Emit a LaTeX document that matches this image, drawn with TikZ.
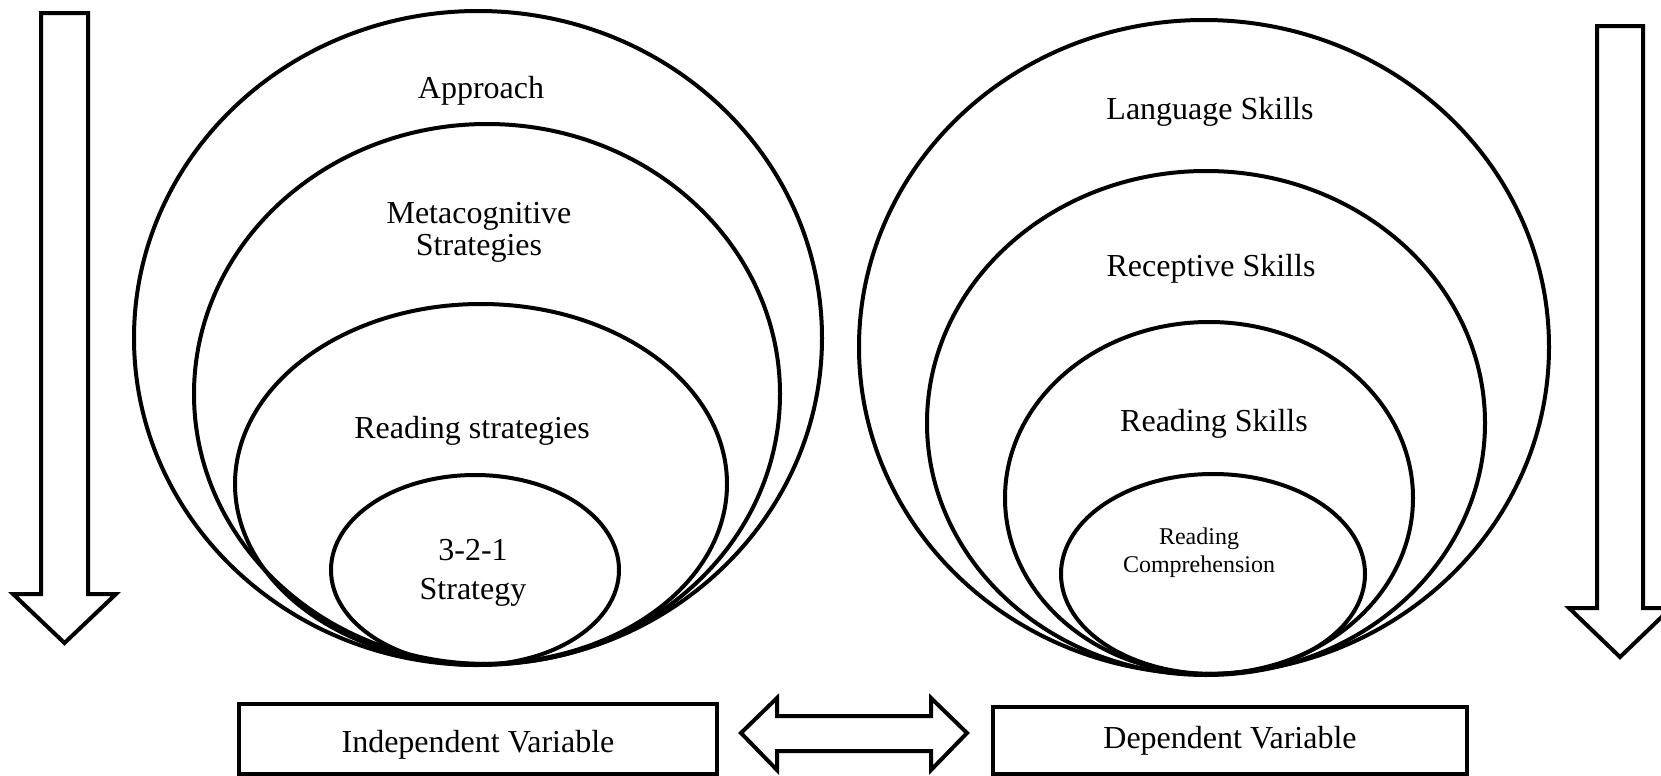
\documentclass[tikz,border=0pt]{standalone}
\usepackage{fontspec}
\setmainfont{Liberation Serif}
\usetikzlibrary{shapes.geometric}

\begin{document}
\begin{tikzpicture}
[x=0.5pt,y=-0.5pt,line width=2pt,%
  every node/.style={inner sep=0pt},%
  ring/.style={shape=ellipse,draw,line width=2pt},%
  term/.style={font=\fontsize{16}{16}\selectfont,align=center},%
  small/.style={font=\fontsize{12}{14}\selectfont,align=center},%
  varbox/.style={shape=rectangle,draw,line width=2pt,font=\fontsize{16}{16}\selectfont}]
\useasboundingbox (0,0) rectangle (1661,776);
% independent side
\node[ring,minimum width=344pt,minimum height=327pt] (approach) at (478,338) {};
\node[ring,minimum width=293pt,minimum height=270pt] (metacog) at (487,394) {};
\node[ring,minimum width=246pt,minimum height=180pt] (readstrat) at (481,484) {};
\node[ring,minimum width=144pt,minimum height=95pt] (threetwoone) at (475,570) {};
\node[term] (approachtext) at (481,91) {Approach};
\node[term] (metacogtext) at (479,232) {Metacognitive\\Strategies};
\node[term] (readstrattext) at (472,431) {Reading strategies};
\node[term,font=\fontsize{16}{19.5}\selectfont] (threetwoonetext) at (473,573) {3-2-1\\Strategy};
% dependent side
\node[ring,minimum width=345pt,minimum height=327pt] (langskills) at (1204,347) {};
\node[ring,minimum width=279pt,minimum height=252pt] (recskills) at (1206,423) {};
\node[ring,minimum width=204pt,minimum height=176pt] (readskills) at (1209,498) {};
\node[ring,minimum width=152pt,minimum height=100pt] (readcomp) at (1213,574) {};
\node[term] (langskillstext) at (1210,112) {Language Skills};
\node[term] (recskillstext) at (1211,269) {Receptive Skills};
\node[term] (readskillstext) at (1214,424) {Reading Skills};
\node[small] (readcomptext) at (1199,553) {Reading\\Comprehension};
% variables
\node[varbox,minimum width=239pt,minimum height=35pt,text height=13.7pt,text depth=0pt] (indep) at (478,739) {Independent Variable};
\node[varbox,minimum width=237pt,minimum height=33.5pt] (dep) at (1230,740.5) {Dependent Variable};
\draw (741,733) -- (777,698) -- (777,716) -- (931,716) -- (931,698) -- (967,733)
  -- (931,770) -- (931,751) -- (777,751) -- (777,770) -- cycle;
% downward arrows
\draw (41,13) -- (88,13) -- (88,594) -- (116,594) -- (64.5,643) -- (13,594) -- (41,594) -- cycle;
\draw (1597,26) -- (1643,26) -- (1643,608) -- (1671,608) -- (1620,657) -- (1569,608) -- (1597,608) -- cycle;
\end{tikzpicture}
\end{document}
